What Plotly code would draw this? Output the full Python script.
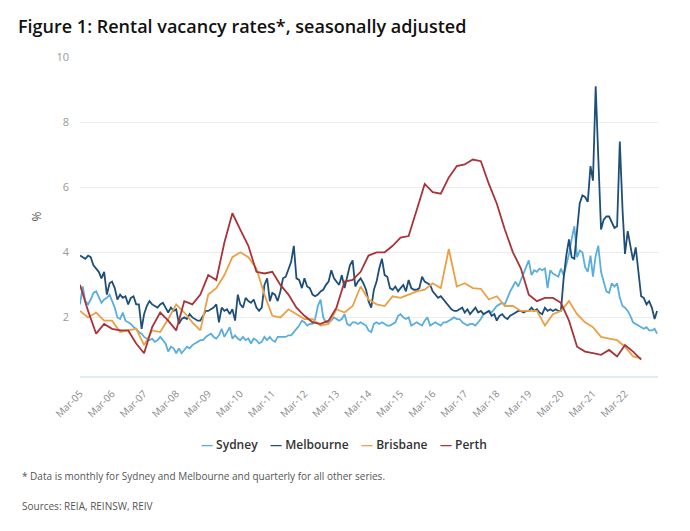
import pandas as pd
import plotly.graph_objects as go

# ---------------- data ----------------
series_names = ["Sydney", "Melbourne", "Brisbane", "Perth"]
series_colors = ["#5aaedc", "#1f4e79", "#eba045", "#a8333a"]

# monthly, Mar-2005 .. Mar-2023
sydney = [
    2.4, 2.95, 2.5, 2.4, 2.55, 2.75, 2.8, 2.6, 2.45, 2.55, 2.6, 2.7,
    2.5, 2.3, 2.0, 1.95, 2.15, 1.9, 1.85, 1.8, 1.7, 1.65, 1.55, 1.5,
    1.4, 1.35, 1.3, 1.35, 1.25, 1.3, 1.4, 1.3, 1.2, 0.95, 1.1, 1.05,
    0.9, 1.05, 0.9, 1.0, 1.1, 1.05, 1.15, 1.2, 1.25, 1.3, 1.3, 1.4,
    1.45, 1.5, 1.4, 1.35, 1.45, 1.65, 1.4, 1.55, 1.7, 1.35, 1.45, 1.35,
    1.3, 1.4, 1.3, 1.35, 1.2, 1.35, 1.3, 1.2, 1.25, 1.4, 1.3, 1.4,
    1.3, 1.25, 1.4, 1.4, 1.4, 1.4, 1.45, 1.45, 1.55, 1.65, 1.75, 1.9,
    1.85, 1.75, 1.8, 1.8, 1.95, 2.35, 2.55, 2.0, 1.85, 1.85, 1.9, 2.0,
    1.95, 1.9, 1.95, 2.1, 1.8, 1.75, 1.85, 1.85, 1.8, 1.85, 1.8, 1.75,
    1.6, 1.55, 1.8, 1.85, 1.8, 1.85, 1.8, 1.75, 1.75, 1.8, 1.85, 2.05,
    2.1, 2.0, 1.95, 2.0, 1.75, 1.8, 1.85, 1.8, 1.75, 1.9, 2.0, 1.75,
    1.8, 1.85, 1.8, 1.75, 1.85, 1.85, 1.9, 1.95, 2.0, 1.95, 1.95, 1.85,
    1.8, 1.75, 1.8, 1.8, 1.75, 1.85, 1.95, 2.1, 2.15, 2.2, 2.15, 2.25,
    2.35, 2.4, 2.45, 2.4, 2.6, 2.8, 2.95, 3.1, 2.95, 3.15, 3.4, 3.6,
    3.75, 3.3, 3.45, 3.4, 3.5, 3.45, 3.5, 2.9, 3.45, 3.35, 3.3, 3.25,
    3.5, 3.3, 3.6, 3.95, 4.4, 4.8, 3.85, 4.05, 4.0, 3.55, 3.4, 3.9,
    3.25, 3.9, 4.2, 3.4, 3.1, 2.8, 2.75, 3.05, 2.95, 3.05, 2.6, 2.35,
    2.3, 2.2, 2.05, 1.85, 1.8, 1.75, 1.7, 1.65, 1.7, 1.6, 1.6, 1.65,
    1.5,
]
melbourne = [
    3.9, 3.85, 3.8, 3.9, 3.85, 3.6, 3.5, 3.4, 3.2, 3.4, 2.7, 3.05,
    3.1, 2.9, 2.55, 2.7, 2.6, 2.65, 2.4, 2.6, 2.65, 2.4, 2.4, 1.65,
    2.1, 2.35, 2.5, 2.4, 2.35, 2.3, 2.4, 2.45, 2.3, 2.15, 2.3, 2.2,
    2.25, 1.8, 1.95, 2.0, 1.95, 2.1, 2.0, 1.95, 1.9, 1.9, 2.05, 2.2,
    2.2, 2.25, 2.3, 2.4, 1.85, 2.3, 2.2, 2.25, 2.1, 2.25, 1.9, 2.7,
    2.4, 2.3, 2.6, 2.5, 2.45, 2.55, 2.3, 2.2, 2.3, 3.0, 3.2, 2.5,
    2.75, 2.7, 2.5, 2.8, 3.2, 3.25, 3.5, 3.7, 4.2, 3.2, 3.15, 2.9,
    3.2, 2.95, 2.9, 2.7, 2.65, 2.7, 2.8, 2.85, 3.0, 3.1, 3.45, 3.2,
    3.1, 3.0, 3.3, 2.9, 3.25, 3.6, 3.75, 2.95, 3.1, 3.2, 3.05, 2.85,
    2.5, 2.3, 2.85, 3.1, 3.5, 3.8, 3.3, 3.25, 2.9, 2.85, 2.95, 2.8,
    2.9, 3.0, 2.8, 3.15, 2.9, 2.85, 2.85, 2.9, 3.25, 3.1, 3.05, 3.0,
    2.8, 2.7, 2.6, 2.65, 2.55, 2.45, 2.35, 2.25, 2.2, 2.2, 2.25, 2.3,
    2.15, 2.25, 2.1, 2.2, 2.3, 2.15, 2.2, 2.1, 2.15, 2.2, 2.05, 2.1,
    1.9, 2.05, 2.1, 2.0, 1.95, 2.05, 2.1, 2.15, 2.2, 2.2, 2.15, 2.2,
    2.2, 2.3, 2.2, 2.25, 2.15, 2.1, 2.3, 2.2, 2.25, 2.2, 2.25, 2.2,
    2.2, 3.2, 3.9, 4.4, 3.85, 3.8, 4.6, 5.5, 5.75, 5.7, 5.55, 6.65,
    6.2, 9.1, 6.9, 4.7, 5.0, 5.1, 5.1, 4.95, 4.75, 4.8, 7.4, 5.3,
    3.95, 4.65, 4.2, 3.75, 4.15, 3.3, 2.65, 2.6, 2.4, 2.5, 2.3, 1.95,
    2.2,
]
# quarterly, Mar-2005 .. Sep-2022
brisbane = [
    2.2, 2.0, 2.15, 1.9, 1.9, 1.55, 1.6, 1.65, 1.15, 1.6, 1.55, 1.95, 2.4, 2.15, 1.85, 1.6,
    2.7, 2.9, 3.3, 3.85, 4.0, 3.85, 3.5, 2.7, 2.05, 2.0, 2.25, 2.1, 1.95, 1.95, 1.75, 1.8,
    2.25, 2.15, 2.35, 2.95, 2.55, 2.4, 2.35, 2.65, 2.6, 2.7, 2.8, 2.85, 3.05, 2.9, 4.1, 2.95,
    3.05, 2.9, 2.88, 2.55, 2.65, 2.35, 2.35, 2.2, 2.2, 2.2, 1.75, 2.1, 2.2, 2.5, 2.1, 1.85,
    1.7, 1.4, 1.35, 1.3, 1.1, 0.8, 0.75,
]
perth = [
    3.0, 2.2, 1.5, 1.8, 1.65, 1.6, 1.6, 1.2, 0.9, 1.7, 2.15, 1.9, 1.6, 2.5, 2.4, 2.7,
    3.3, 3.15, 4.3, 5.2, 4.7, 4.2, 3.4, 3.35, 3.4, 3.0, 2.7, 2.3, 2.05, 1.85, 1.8, 1.9,
    2.3, 3.1, 3.15, 3.4, 3.9, 4.0, 4.0, 4.2, 4.45, 4.5, 5.3, 6.1, 5.85, 5.8, 6.3, 6.65,
    6.7, 6.85, 6.8, 6.1, 5.5, 4.7, 4.0, 3.5, 2.7, 2.5, 2.6, 2.6, 2.45, 1.9, 1.1, 0.95,
    0.9, 0.85, 1.0, 0.8, 1.15, 0.95, 0.7,
]

tick_years = list(range(2005, 2023))
tick_labels = ["Mar-%02d" % (y % 100) for y in tick_years]
y_ticks = [2, 4, 6, 8, 10]

title_text = "Figure 1: Rental vacancy rates*, seasonally adjusted"
footnote_text = "* Data is monthly for Sydney and Melbourne and quarterly for all other series."
source_text = "Sources: REIA, REINSW, REIV"

# ---------------- figure ----------------
monthly_dates = pd.date_range("2005-03-01", periods=len(sydney), freq="MS")
quarterly_dates = pd.date_range("2005-03-01", periods=len(perth), freq="3MS")

values = [sydney, melbourne, brisbane, perth]
dates = [monthly_dates, monthly_dates, quarterly_dates, quarterly_dates]

fig = go.Figure()
for name, col, d, v in zip(series_names, series_colors, dates, values):
    fig.add_trace(go.Scatter(x=d, y=v, mode="lines", name=name,
                             line=dict(color=col, width=1.8), showlegend=False))

tickvals = [pd.Timestamp(f"{y}-03-01") for y in tick_years]

FONT = "Open Sans"
fig.update_layout(
    width=690, height=531,
    margin=dict(l=80, r=32, t=57, b=155),
    paper_bgcolor="white", plot_bgcolor="white",
    font=dict(family=FONT, color="#555"),
    title=dict(text=title_text, xref="container", yref="container",
               x=18 / 690, xanchor="left", y=1 - 27 / 531, yanchor="middle",
               font=dict(family=FONT, size=18, color="#111", weight=600)),
    xaxis=dict(range=[pd.Timestamp("2005-03-01"), pd.Timestamp("2023-03-12")],
               tickvals=tickvals, ticktext=tick_labels, tickangle=-45,
               tickfont=dict(size=10, color="#8a8a8a"),
               showgrid=False, showline=True, linecolor="#e2eaf2", linewidth=2,
               ticks="", zeroline=False, ticklabelstandoff=6),
    yaxis=dict(range=[0.2, 10], tickvals=y_ticks, ticks="",
               tickfont=dict(size=11, color="#999"),
               showgrid=True, gridcolor="#ececec", gridwidth=1, zeroline=False,
               ticklabelstandoff=10,
               title=dict(text="%", font=dict(size=12, color="#555"), standoff=12)),
)

# legend row built from the series names/colors
legend_parts = []
for name, col in zip(series_names, series_colors):
    legend_parts.append(f"<span style='color:{col}'>—</span> {name}")
legend_text = "&nbsp;&nbsp;&nbsp;&nbsp;".join(legend_parts)

plot_w, plot_h = 690 - 80 - 32, 531 - 57 - 155
def px_x(px):
    return (px - 80) / plot_w
def px_y(py):
    return (376 - py) / plot_h

fig.add_annotation(text=legend_text, xref="paper", yref="paper",
                   x=px_x(344), y=px_y(445), xanchor="center", yanchor="middle",
                   showarrow=False, font=dict(size=12, color="#333", weight=600))
fig.add_annotation(text=footnote_text, xref="paper", yref="paper",
                   x=px_x(20), y=px_y(476), xanchor="left", yanchor="middle",
                   showarrow=False, font=dict(size=10, color="#555"))
fig.add_annotation(text=source_text, xref="paper", yref="paper",
                   x=px_x(20), y=px_y(506), xanchor="left", yanchor="middle",
                   showarrow=False, font=dict(size=10, color="#555"))

fig.write_html("out.html", config={"displayModeBar": False},
               post_script="document.body.style.margin='0';document.body.style.overflow='hidden';")
